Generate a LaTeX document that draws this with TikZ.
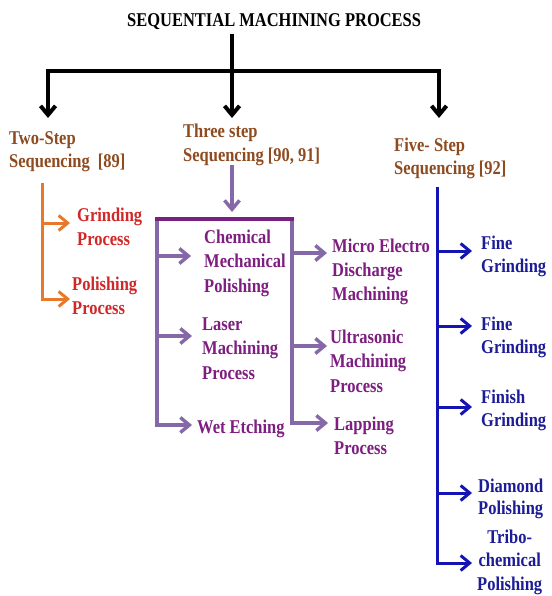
\documentclass[tikz,border=0pt]{standalone}
\usepackage{fontspec}
\setmainfont{Liberation Serif}[FakeStretch=0.845]
\usetikzlibrary{arrows.meta}

\definecolor{capbrown}{HTML}{8E4B1F}
\definecolor{twoorange}{HTML}{E8782A}
\definecolor{twored}{HTML}{D02828}
\definecolor{threetext}{HTML}{7D1E80}
\definecolor{threelav}{HTML}{8468A8}
\definecolor{threebar}{HTML}{7A2080}
\definecolor{fiveblue}{HTML}{1414B4}
\definecolor{fivetext}{HTML}{1C1C96}

% multi-line label whose reference point is the first baseline
\newcommand\blockL[1]{\begin{tabular}[t]{@{}l@{}}#1\end{tabular}}
\newcommand\blockC[1]{\begin{tabular}[t]{@{}c@{}}#1\end{tabular}}

\tikzset{
  lbl/.style={inner sep=0pt, anchor=base west,
    font=\bfseries\fontsize{19.5}{24}\selectfont},
  sp/.style={font=\bfseries\fontsize{19.5}{#1}\selectfont},
  tip/.style={-{Straight Barb[length=9pt,width=15pt]}},
  mainline/.style={line width=4pt, black, line join=miter},
  twoconn/.style={line width=3pt, twoorange, tip},
  threeconn/.style={line width=3.4pt, threelav, tip},
  fiveconn/.style={line width=3pt, fiveblue, tip},
}

\begin{document}
\begin{tikzpicture}[x=1pt, y=-1pt]
\useasboundingbox[fill=white] (0,0) rectangle (551,596);

% ---- headings
\node[lbl] (title) at (127,27) {SEQUENTIAL MACHINING PROCESS};
\node[lbl, sp=23, text=capbrown] (two) at (9,145)
  {\blockL{Two-Step\\Sequencing\ \ [89]}};
\node[lbl, sp=24, text=capbrown] (three) at (183,138)
  {\blockL{Three step\\Sequencing [90, 91]}};
\node[lbl, sp=23, text=capbrown] (five) at (394,152)
  {\blockL{Five- Step\\Sequencing [92]}};

% ---- two-step branch
\node[lbl, text=twored] (grind) at (77,221) {\blockL{Grinding\\Process}};
\node[lbl, text=twored] (polish) at (72,290) {\blockL{Polishing\\Process}};

% ---- three-step branch
\node[lbl, sp=24.5, text=threetext] (cmp) at (204,243)
  {\blockL{Chemical\\Mechanical\\Polishing}};
\node[lbl, sp=24.5, text=threetext] (laser) at (202,330)
  {\blockL{Laser\\Machining\\Process}};
\node[lbl, text=threetext] (wet) at (197,433) {Wet Etching};
\node[lbl, sp=24, text=threetext] (medm) at (332,252)
  {\blockL{Micro Electro\\Discharge\\Machining}};
\node[lbl, sp=24.5, text=threetext] (usm) at (330,343)
  {\blockL{Ultrasonic\\Machining\\Process}};
\node[lbl, text=threetext] (lap) at (334,430) {\blockL{Lapping\\Process}};

% ---- five-step branch
\node[lbl, sp=23, text=fivetext] (fg1) at (481,249) {\blockL{Fine\\Grinding}};
\node[lbl, sp=23, text=fivetext] (fg2) at (481,330) {\blockL{Fine\\Grinding}};
\node[lbl, sp=23.5, text=fivetext] (fin) at (481,403) {\blockL{Finish\\Grinding}};
\node[lbl, sp=22, text=fivetext] (dia) at (478,492) {\blockL{Diamond\\Polishing}};
\node[lbl, sp=23.5, text=fivetext] (tri) at (477,543) {\blockC{Tribo-\\chemical\\Polishing}};

% ---- top-level tree
\coordinate (hub) at (232,71);
\coordinate (hl) at (48,71);
\coordinate (hr) at (439,71);
\coordinate (t1) at (48,118);
\coordinate (t2) at (232,118);
\coordinate (t3) at (439,118);
\draw[mainline, tip] ([yshift=-4pt]title.south -| hub) -- (t2);
\draw[mainline, {Straight Barb[length=9pt,width=15pt]}-{Straight Barb[length=9pt,width=15pt]}]
  (t1) -- (hl) -- (hr) -- (t3);

% ---- two-step connectors
\coordinate (os) at (42,183);
\coordinate (gtip) at (70,223);
\coordinate (ptip) at (70,299);
\draw[twoconn] (os) -- (os |- ptip) -- (ptip);
\draw[twoconn] (os |- gtip) -- (gtip);

% ---- three-step connectors
\coordinate (ts) at (232,165);
\coordinate (tt) at (232,212);
\coordinate (bl) at (157,219);
\coordinate (br) at (292,219);
\coordinate (c1) at (191,256);
\coordinate (c2) at (192,336);
\coordinate (c3) at (192,425);
\coordinate (d1) at (327,253);
\coordinate (d2) at (327,346);
\coordinate (d3) at (328,423);
\draw[threeconn] (ts) -- (tt);
\draw[threeconn] (bl) -- (bl |- c3) -- (c3);
\draw[threeconn] (bl |- c1) -- (c1);
\draw[threeconn] (bl |- c2) -- (c2);
\draw[threeconn] (br) -- (br |- d3) -- (d3);
\draw[threeconn] (br |- d1) -- (d1);
\draw[threeconn] (br |- d2) -- (d2);
\draw[line width=3.4pt, threebar] ([xshift=-1.7pt]bl) -- ([xshift=1.7pt]br);

% ---- five-step connectors
\coordinate (fs) at (437,187);
\coordinate (e1) at (472,251);
\coordinate (e2) at (472,326);
\coordinate (e3) at (472,407);
\coordinate (e4) at (472,493);
\coordinate (e5) at (472,563);
\draw[fiveconn] (fs) -- (fs |- e5) -- (e5);
\draw[fiveconn] (fs |- e1) -- (e1);
\draw[fiveconn] (fs |- e2) -- (e2);
\draw[fiveconn] (fs |- e3) -- (e3);
\draw[fiveconn] (fs |- e4) -- (e4);
\end{tikzpicture}
\end{document}
